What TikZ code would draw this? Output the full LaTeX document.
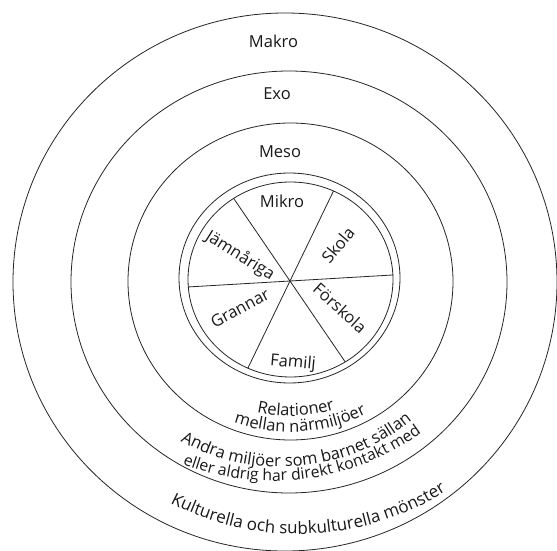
\documentclass[tikz,border=0pt]{standalone}
\usepackage{fontspec}
\setmainfont{Open Sans}
\usetikzlibrary{decorations.text}
\begin{document}
\begin{tikzpicture}[x=1pt,y=1pt,
  ring/.style={draw=black!85, line width=0.8pt},
  lbl/.style={inner sep=0pt, text=black!90, font=\fontsize{16.5}{19}\selectfont},
  arctext/.style={decorate, decoration={text along path, text align=center,
     text={|\color{black!90}\fontsize{#1}{19}\selectfont|\arctxt}}},
]
\useasboundingbox[fill=white] (0,0) rectangle (557,550);
% circles
\coordinate (cMakro) at (285,268);
\coordinate (cExo) at (289,268);
\coordinate (cMeso) at (290.5,268.5);
\coordinate (cRingA) at (289.5,272);
\coordinate (cRingB) at (290.5,270.5);
\coordinate (wc) at (290,269);
\draw[ring] (cMakro) ellipse [x radius=272, y radius=269];
\draw[ring] (cExo) ellipse [x radius=218, y radius=211];
\draw[ring] (cMeso) ellipse [x radius=162.5, y radius=158.5];
\draw[ring] (cRingA) ellipse [x radius=110.5, y radius=105];
\draw[ring] (cRingB) ellipse [x radius=102.5, y radius=97.5];
% spokes
\begin{scope}
\clip (cRingB) ellipse [x radius=102.5, y radius=97.5];
\draw[ring] ([shift={(3.35:130)}]wc) -- ([shift={(183.35:130)}]wc);
\draw[ring] ([shift={(64.2:130)}]wc) -- ([shift={(244.2:130)}]wc);
\draw[ring] ([shift={(124.3:130)}]wc) -- ([shift={(304.3:130)}]wc);
\end{scope}
% wheel labels
\node[lbl] (mikro) at (282,349) {Mikro};
\node[lbl, rotate=50] (skola) at (338,305) {Skola};
\node[lbl, rotate=-32] (jamn) at (240,294) {Jämnåriga};
\node[lbl, rotate=-42] (forskola) at (340,242) {Förskola};
\node[lbl, rotate=28] (grannar) at (240,242) {Grannar};
\node[lbl, rotate=-5] (familj) at (293,187) {Familj};
% level labels
\node[lbl] (makro) at (273.5,509) {Makro};
\node[lbl] (exo) at (277,456) {Exo};
\node[lbl] (meso) at (280,398.5) {Meso};
% curved labels
\coordinate (t1) at (290,290);
\coordinate (t3) at (281,290);
\coordinate (t4) at (273,321);
\coordinate (t5) at (298,295);
\def\arctxt{Relationer}
\path[arctext=16.5] ([shift={(-117.8:156)}]t1) arc[start angle=-117.8, end angle=-57.8, radius=156];
\def\arctxt{mellan närmiljöer}
\path[arctext=16.5] ([shift={(-121.3:172)}]t1) arc[start angle=-121.3, end angle=-51.3, radius=172];
\def\arctxt{Andra miljöer som barnet sällan}
\path[arctext=16.5] ([shift={(-129.9:207)}]t3) arc[start angle=-129.9, end angle=-39.9, radius=207];
\def\arctxt{eller aldrig har direkt kontakt med}
\path[arctext=15.8] ([shift={(-122.5:252)}]t4) arc[start angle=-122.5, end angle=-42.5, radius=252];
\def\arctxt{Kulturella och subkulturella mönster}
\path[arctext=17] ([shift={(-127.6:279)}]t5) arc[start angle=-127.6, end angle=-47.6, radius=279];
\end{tikzpicture}
\end{document}
